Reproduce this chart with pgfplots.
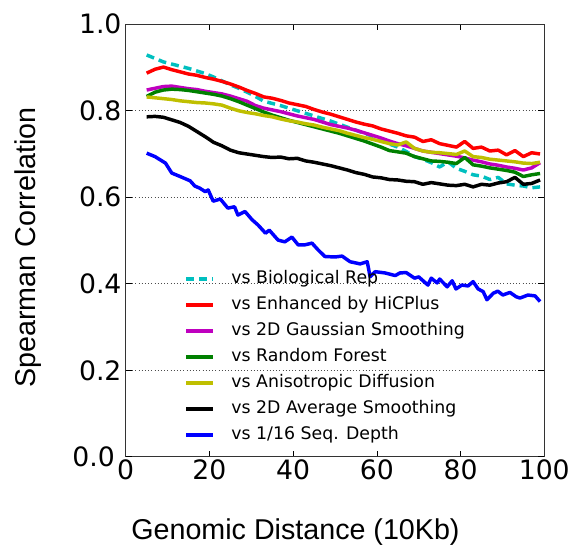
\documentclass[border=0pt]{standalone}
\usepackage{fontspec}
\setmainfont{DejaVu Sans}
\newfontfamily\arial{Liberation Sans}
\usepackage{pgfplots}
\pgfplotsset{compat=1.18}
\definecolor{mcyan}{rgb}{0,0.75,0.75}
\definecolor{mmag}{rgb}{0.75,0,0.75}
\definecolor{mgreen}{rgb}{0,0.5,0}
\definecolor{myel}{rgb}{0.75,0.75,0}
\begin{document}
\begin{tikzpicture}
\useasboundingbox (-94.3pt,-66.9pt) rectangle (342.2pt,342.6pt);
\begin{axis}[
  at={(0,0)}, anchor=south west,
  scale only axis, width=313.9pt, height=324.4pt,
  xmin=0, xmax=100, ymin=0, ymax=1,
  xtick={0,20,40,60,80,100},
  ytick={0.2,0.4,0.6,0.8,1.0},
  extra y ticks={0},
  extra y tick style={grid=none, yticklabel style={xshift=-5pt}},
  minor tick num=0,
  tick align=inside,
  major tick length=4.5pt,
  every tick/.style={black, line width=0.5pt},
  axis line style={black!80, line width=0.6pt},
  /pgf/number format/assume math mode=true,
  tick label style={font=\fontsize{20}{20}\selectfont},
  xticklabel style={inner sep=2pt},
  yticklabel style={inner sep=3pt, /pgf/number format/fixed, /pgf/number format/fixed zerofill, /pgf/number format/precision=1},
  ymajorgrids,
  major grid style={black!70, line width=0.5pt, dash pattern=on 0.8pt off 1.6pt},
  xlabel={\arial Genomic Distance (10Kb)},
  ylabel={\arial Spearman Correlation},
  xlabel style={font=\fontsize{21.5}{21.5}\selectfont, at={(axis description cs:0.4056,-0.1902)}, anchor=base},
  ylabel style={font=\fontsize{21.5}{21.5}\selectfont, at={(axis description cs:-0.2144,0.484)}, anchor=base},
  legend cell align=left,
  legend style={draw=none, fill=none, inner sep=0pt,
    at={(axis cs:14.0,0.435)}, anchor=north west,
    font=\fontsize{13}{13}\selectfont,
    row sep=4.5pt,
    nodes={inner sep=1pt, text height=10pt, text depth=3pt},
    /tikz/every odd column/.style={column sep=11.5pt}},
  legend image code/.code={\draw[#1] (0pt,0pt) -- (20pt,0pt);},
  every axis plot/.append style={line width=2.6pt, line join=round},
]
\addplot[mcyan, dash pattern=on 6pt off 3.75pt] coordinates {
(5,.929)(7,.921)(9,.913)(11,.908)(13,.903)(15,.898)(17,.892)(19,.886)(21,.878)(23,.869)(25,.860)(27,.852)(29,.843)(31,.833)(33,.822)(35,.817)(37,.812)(39,.806)(41,.800)(43,.794)(45,.788)(47,.782)(49,.776)(51,.769)(53,.762)(55,.755)(57,.748)(59,.741)(61,.733)(63,.723)(65,.716)(67,.706)(69,.694)(71,.688)(73,.680)(75,.670)(77,.682)(79,.667)(81,.660)(83,.652)(85,.649)(87,.641)(89,.646)(91,.631)(93,.628)(95,.626)(97,.622)(99,.624)};
\addlegendentry{vs Biological Rep}
\addplot[red] coordinates {
(5,.887)(7,.896)(9,.901)(11,.895)(13,.890)(15,.885)(17,.882)(19,.877)(21,.873)(23,.868)(25,.862)(27,.855)(29,.847)(31,.840)(33,.832)(35,.829)(37,.824)(39,.818)(41,.814)(43,.810)(45,.803)(47,.797)(49,.792)(51,.786)(53,.780)(55,.774)(57,.769)(59,.765)(61,.758)(63,.753)(65,.748)(67,.742)(69,.739)(71,.729)(73,.733)(75,.724)(77,.720)(79,.716)(81,.729)(83,.713)(85,.716)(87,.707)(89,.709)(91,.698)(93,.708)(95,.694)(97,.703)(99,.700)};
\addlegendentry{vs Enhanced by HiCPlus}
\addplot[mmag] coordinates {
(5,.848)(7,.852)(9,.856)(11,.857)(13,.854)(15,.851)(17,.849)(19,.845)(21,.842)(23,.839)(25,.834)(27,.828)(29,.822)(31,.812)(33,.806)(35,.802)(37,.798)(39,.793)(41,.788)(43,.784)(45,.780)(47,.774)(49,.768)(51,.764)(53,.760)(55,.755)(57,.749)(59,.743)(61,.737)(63,.730)(65,.724)(67,.719)(69,.713)(71,.707)(73,.704)(75,.701)(77,.698)(79,.695)(81,.691)(83,.686)(85,.682)(87,.677)(89,.674)(91,.670)(93,.667)(95,.663)(97,.668)(99,.680)};
\addlegendentry{vs 2D Gaussian Smoothing}
\addplot[mgreen] coordinates {
(5,.833)(7,.843)(9,.848)(11,.850)(13,.849)(15,.847)(17,.844)(19,.841)(21,.838)(23,.834)(25,.828)(27,.821)(29,.813)(31,.805)(33,.797)(35,.790)(37,.784)(39,.778)(41,.773)(43,.768)(45,.763)(47,.758)(49,.753)(51,.748)(53,.742)(55,.736)(57,.730)(59,.723)(61,.716)(63,.708)(65,.705)(67,.702)(69,.694)(71,.689)(73,.684)(75,.683)(77,.681)(79,.678)(81,.692)(83,.675)(85,.672)(87,.668)(89,.665)(91,.662)(93,.658)(95,.648)(97,.652)(99,.655)};
\addlegendentry{vs Random Forest}
\addplot[myel] coordinates {
(5,.832)(7,.830)(9,.828)(11,.826)(13,.823)(15,.821)(17,.819)(19,.818)(21,.816)(23,.813)(25,.806)(27,.800)(29,.796)(31,.793)(33,.789)(35,.786)(37,.781)(39,.777)(41,.774)(43,.770)(45,.767)(47,.762)(49,.758)(51,.754)(53,.748)(55,.743)(57,.738)(59,.734)(61,.729)(63,.724)(65,.721)(67,.728)(69,.713)(71,.707)(73,.704)(75,.703)(77,.701)(79,.699)(81,.707)(83,.694)(85,.692)(87,.688)(89,.686)(91,.684)(93,.682)(95,.679)(97,.678)(99,.681)};
\addlegendentry{vs Anisotropic Diffusion}
\addplot[black] coordinates {
(5,.786)(7,.787)(9,.785)(11,.779)(13,.773)(15,.764)(17,.752)(19,.740)(21,.727)(23,.719)(25,.709)(27,.703)(29,.700)(31,.697)(33,.694)(35,.692)(37,.693)(39,.689)(41,.690)(43,.684)(45,.681)(47,.677)(49,.673)(51,.668)(53,.663)(55,.657)(57,.653)(59,.647)(61,.645)(63,.641)(65,.640)(67,.637)(69,.636)(71,.630)(73,.634)(75,.631)(77,.628)(79,.627)(81,.630)(83,.624)(85,.630)(87,.628)(89,.633)(91,.636)(93,.646)(95,.630)(97,.632)(99,.640)};
\addlegendentry{vs 2D Average Smoothing}
\addplot[blue] coordinates {
(5,.702)(7,.694)(9.5,.679)(11,.656)(13,.648)(15.4,.638)(16.5,.626)(17.7,.621)(19,.613)(19.7,.617)(20.9,.591)(22.6,.596)(24.4,.575)(26,.578)(26.8,.559)(28.5,.567)(30.2,.548)(31.6,.536)(33.4,.517)(34.3,.524)(36.4,.501)(38,.497)(39.7,.508)(41.2,.490)(42.8,.490)(44.5,.494)(46,.478)(47.6,.463)(50,.462)(51.7,.464)(53.6,.451)(56,.446)(57.7,.451)(58.4,.416)(59.6,.428)(62,.425)(64.4,.419)(65.5,.425)(67,.426)(69,.413)(70,.416)(72.2,.397)(73,.413)(74.4,.402)(75,.411)(76.8,.393)(78,.407)(78.9,.388)(80.3,.397)(81.8,.395)(83,.405)(84.2,.388)(85.4,.382)(86.3,.363)(87.8,.378)(88.9,.383)(90.1,.374)(91.8,.380)(93.3,.370)(94.2,.367)(96.1,.374)(97.8,.372)(99,.359)};
\addlegendentry{vs 1/16 Seq. Depth}
\end{axis}
\end{tikzpicture}
\end{document}
